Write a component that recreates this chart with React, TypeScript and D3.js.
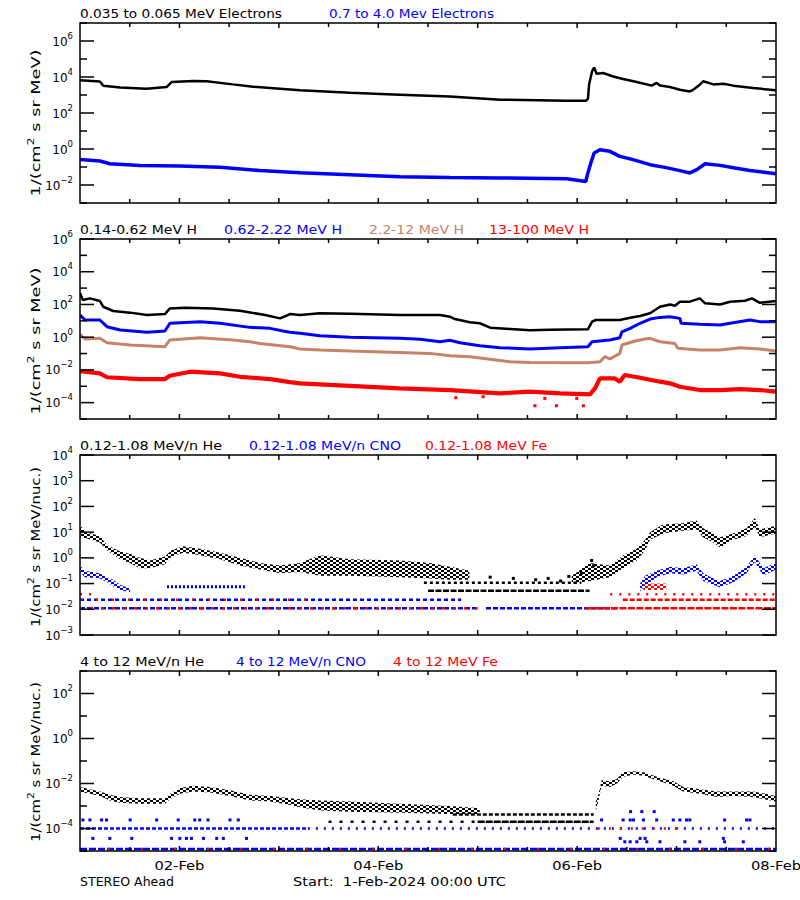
import * as d3 from 'd3'

// time axis: hours since 1-Feb-2024 00:00 UTC, values are log10 of flux
type Pt = [number, number]
type Band = [number, number, number]
type Seg = [number, number]

// ---- panel 1: electrons
const eLo: Pt[] = [[0,3.82],[4.8,3.75],[5.6,3.52],[9.7,3.42],[16.1,3.35],[20.9,3.44],[22.1,3.72],[27.3,3.78],[30.6,3.76],[36.9,3.59],[41.8,3.46],[48.3,3.35],[53.1,3.26],[65.2,3.13],[77.2,3.02],[89.3,2.91],[101.4,2.74],[117.5,2.68],[122.1,2.68],[122.6,2.79],[122.9,3.61],[123.6,4.31],[124.1,4.53],[124.7,4.18],[126.3,4.22],[128.7,4.03],[131.1,3.89],[134.4,3.72],[138.0,3.52],[139.2,3.67],[140.0,3.53],[142.4,3.44],[144.8,3.29],[147.2,3.2],[148.0,3.29],[149.6,3.57],[150.4,3.76],[152.9,3.59],[155.3,3.63],[157.7,3.52],[162.5,3.39],[168,3.26]]
const eHi: Pt[] = [[0,-0.59],[4.8,-0.67],[7.2,-0.82],[14.5,-0.91],[24.1,-0.94],[33.8,-1.02],[43.4,-1.2],[53.1,-1.32],[65.2,-1.43],[77.2,-1.54],[89.3,-1.59],[101.4,-1.61],[117.5,-1.65],[122.1,-1.8],[122.6,-1.33],[123.3,-0.78],[124.1,-0.22],[125.5,-0.04],[127.9,-0.13],[130.3,-0.41],[133.5,-0.59],[137.6,-0.87],[141.2,-1.02],[144.8,-1.2],[147.2,-1.33],[148.9,-1.15],[150.9,-0.82],[154.5,-0.91],[158.1,-1.06],[161.7,-1.2],[168,-1.37]]

// ---- panel 2: protons
const hA: Pt[] = [[0,2.68],[0.7,2.27],[2.4,2.37],[4.8,2.21],[5.6,1.86],[8.0,1.6],[12.1,1.5],[16.2,1.35],[20.5,1.41],[21.7,1.76],[25.3,1.8],[32.1,1.76],[38.6,1.62],[44.7,1.35],[48.3,1.15],[50.7,1.41],[53.1,1.35],[57.9,1.46],[65.2,1.43],[77.2,1.35],[86.9,1.35],[89.3,1.25],[90.5,1.11],[94.1,0.91],[96.5,0.85],[99.0,0.58],[103.8,0.5],[108.6,0.42],[113.4,0.46],[122.6,0.48],[123.6,0.95],[124.5,1.05],[130.3,1.05],[132.8,1.19],[135.2,1.29],[137.6,1.46],[138.8,1.66],[140.0,1.86],[142.4,2.0],[143.6,1.92],[144.8,2.17],[147.2,2.17],[149.6,2.37],[150.9,2.07],[154.5,2.0],[156.9,2.17],[160.5,2.23],[162.2,2.37],[164.1,2.1],[168,2.21]]
const hB: Pt[] = [[0,1.35],[1.2,1.05],[4.8,1.05],[6.5,0.64],[9.7,0.44],[16.2,0.3],[20.5,0.38],[21.7,0.85],[29.0,0.95],[33.8,0.85],[41.0,0.6],[45.9,0.54],[49.0,0.38],[50.7,0.3],[53.1,0.24],[57.9,0.09],[65.2,-0.01],[77.2,-0.07],[82.1,-0.13],[86.9,-0.28],[89.3,-0.19],[91.7,-0.34],[96.5,-0.52],[101.4,-0.64],[108.6,-0.72],[115.9,-0.64],[122.6,-0.58],[123.6,-0.28],[127.9,-0.17],[130.3,-0.03],[130.8,0.33],[132.8,0.54],[135.2,0.85],[137.6,1.11],[140.0,1.21],[142.4,1.25],[144.8,1.15],[145.1,0.85],[149.6,0.79],[154.5,0.74],[156.9,0.85],[161.7,1.05],[164.1,0.95],[168,0.95]]
const hC: Pt[] = [[0,0.17],[1.2,-0.11],[4.8,-0.07],[6.5,-0.34],[12.1,-0.48],[20.5,-0.58],[21.7,-0.17],[29.0,-0.03],[36.9,-0.17],[41.0,-0.28],[43.4,-0.38],[50.7,-0.58],[53.1,-0.72],[57.9,-0.79],[65.2,-0.85],[77.2,-0.93],[84.5,-0.99],[89.3,-1.13],[94.1,-1.19],[99.0,-1.35],[103.8,-1.5],[108.6,-1.54],[122.6,-1.56],[125.5,-1.5],[126.7,-1.19],[127.9,-1.33],[130.3,-0.99],[130.8,-0.48],[134.0,-0.23],[136.4,-0.11],[137.6,-0.07],[140.0,-0.28],[143.6,-0.38],[144.3,-0.68],[149.6,-0.79],[154.5,-0.79],[159.3,-0.64],[164.1,-0.72],[168,-0.85]]
const hD: Pt[] = [[0,-2.07],[4.8,-2.21],[6.5,-2.45],[14.5,-2.56],[20.5,-2.56],[21.7,-2.36],[26.6,-2.11],[33.8,-2.21],[38.6,-2.42],[45.9,-2.56],[50.7,-2.75],[53.1,-2.82],[60.3,-2.92],[77.2,-3.13],[89.3,-3.23],[101.4,-3.43],[108.6,-3.33],[115.9,-3.43],[123.1,-3.49],[124.3,-3.13],[125.5,-2.52],[129.1,-2.52],[130.3,-2.72],[131.5,-2.31],[135.2,-2.48],[140.0,-2.72],[142.4,-2.82],[144.8,-3.03],[149.6,-3.23],[154.5,-3.23],[159.3,-3.17],[164.1,-3.23],[168,-3.33]]
const hDLow: Pt[] = [[90.7,-3.7],[97.3,-3.64],[109.8,-4.19],[112.2,-3.74],[115,-4.19],[119.9,-3.74],[121.5,-4.19]]

// ---- panel 3: 0.12-1.08 MeV/n heavy ions (scatter clouds as low/high envelopes)
const he3a: Band[] = [[0,0.8,1.25],[1.7,0.75,1.0],[4.8,0.6,0.85],[6.5,0.3,0.5],[9.7,-0.05,0.25],[12.1,-0.2,0.15],[14.5,-0.4,0.0],[16.9,-0.4,-0.1],[20.5,-0.25,0.05],[22.1,0.05,0.3],[24.9,0.2,0.45],[29,0.1,0.35],[33.8,-0.05,0.2],[38.6,-0.3,0.0],[43.4,-0.45,-0.2],[48.3,-0.6,-0.3],[53.1,-0.55,-0.2],[57.9,-0.7,0.1],[65.2,-0.7,-0.05],[77.2,-0.75,-0.1],[84.5,-0.8,-0.2],[89.3,-0.85,-0.35],[94,-0.85,-0.5]]
const he3b: Band[] = [[118.7,-1.0,-0.7],[123.1,-0.9,-0.2],[127.9,-0.75,-0.3],[131.1,-0.4,0.1],[134.4,-0.1,0.35],[136.4,0.3,0.7],[137.6,0.7,1.0],[140.7,0.95,1.3],[145.5,1.05,1.35],[148.8,1.1,1.45],[150.4,0.8,1.15],[152.9,0.6,0.95],[154.5,0.4,0.8],[157.6,0.7,0.95],[160.9,0.85,1.15],[162.9,1.2,1.55],[164.1,0.8,1.1],[168,0.95,1.25]]
const he3Dots: Pt[] = [[99,-0.75],[104.6,-0.8],[110,-0.85],[113,-0.8],[116,-0.9],[118,-0.72],[121,-0.6],[123.5,-0.1],[124,-0.3]]
const he3RowA: Seg[] = [[83,121]]
const he3RowB: Seg[] = [[84,123]]
const cno3a: Band[] = [[0,-0.55,-0.3],[1.2,-0.75,-0.5],[4.8,-0.8,-0.6],[6.5,-0.95,-0.75],[8,-1.1,-0.85],[9.7,-1.25,-1.05],[12.1,-1.35,-1.2]]
const cno3b: Band[] = [[135.2,-1.3,-1.0],[136.4,-1.1,-0.7],[139.2,-0.75,-0.5],[142.4,-0.6,-0.35],[145.6,-0.65,-0.4],[148.8,-0.5,-0.25],[150.4,-0.9,-0.6],[152.9,-1.05,-0.8],[154.5,-1.15,-0.9],[157.7,-0.95,-0.7],[160.9,-0.6,-0.35],[162.9,-0.15,0.1],[164.9,-0.7,-0.4],[168,-0.45,-0.2]]
const cno3Bump: Seg[] = [[21,40]]
const cno3RowMid: Seg[] = [[0,92]]
const cno3RowLow: Seg[] = [[0,96],[98,130]]
const fe3Band: Band[] = [[136,-1.25,-1.0],[141.5,-1.25,-1.0]]
const fe3RowLowA: Seg[] = [[0,96]]
const fe3RowLowB: Seg[] = [[122,168]]
const fe3RowMidA: Seg[] = [[0,55]]
const fe3RowMidB: Seg[] = [[131,168]]
const fe3RowHigh: Seg[] = [[0,3],[128,168]]

// ---- panel 4: 4-12 MeV/n heavy ions
const he4a: Band[] = [[0,-2.35,-2.15],[4.8,-2.55,-2.35],[7.2,-2.75,-2.5],[9.7,-2.85,-2.6],[14.5,-2.9,-2.65],[20.5,-2.9,-2.65],[21.7,-2.7,-2.45],[24.1,-2.45,-2.2],[27.3,-2.35,-2.1],[31.4,-2.4,-2.15],[36.2,-2.55,-2.3],[41,-2.75,-2.5],[45.9,-2.8,-2.55],[50.7,-2.95,-2.65],[53.1,-3.05,-2.7],[57.9,-3.2,-2.75],[65.2,-3.25,-2.8],[77.2,-3.3,-2.9],[89.3,-3.35,-3.0],[96.5,-3.35,-3.1]]
const he4b: Band[] = [[124.5,-3.2,-2.8],[125.0,-2.9,-2.6],[125.9,-2.1,-1.85],[127.9,-2.15,-1.9],[129.6,-2.0,-1.8],[131.1,-1.7,-1.5],[133.6,-1.6,-1.45],[136.0,-1.65,-1.5],[139.2,-1.85,-1.7],[143.2,-2.1,-1.9],[145.6,-2.35,-2.15],[149.6,-2.45,-2.25],[153.7,-2.6,-2.35],[157.7,-2.55,-2.35],[162.5,-2.6,-2.35],[168,-2.8,-2.55]]
const he4RowA: Seg[] = [[90,124]]
const he4RowB1: Seg[] = [[60,96]]
const he4RowB2: Seg[] = [[96,124]]
const cno4RowA1: Seg[] = [[0,55]]
const cno4RowA2: Seg[] = [[55,168]]
const cno4RowB: Seg[] = [[0,168]]
const fe4RowA: Seg[] = [[125,145]]
const fe4RowB: Seg[] = [[0,168]]
const cno4Dots: Pt[] = [
  [0.7,-3.62],[2.4,-3.62],[5.2,-3.62],[6.4,-3.62],[12.1,-3.62],[18.5,-3.62],[23.7,-3.62],[27.7,-3.62],[28.9,-3.62],[30.9,-3.62],[36.2,-3.62],[38.2,-3.62],
  [125.9,-3.62],[131.1,-3.62],[132.8,-3.62],[133.6,-3.62],[136,-3.62],[139.2,-3.62],[143.2,-3.62],[144.8,-3.62],[146.4,-3.62],[147.2,-3.62],[155.6,-3.62],[160.9,-3.62],[161.7,-3.62],
  [132.9,-3.25],[135.6,-3.25],[138.6,-3.25],
  [3.1,-4.44],[7.2,-4.44],[12.5,-4.44],[22.1,-4.44],[24.1,-4.44],[25.7,-4.44],[26.9,-4.44],[29.8,-4.44],[33,-4.44],[34.6,-4.44],[40.2,-4.44],
  [130.4,-4.44],[135.2,-4.44],[136.4,-4.44],[155.3,-4.44],
  [131.5,-4.59],[132.8,-4.59],[134.4,-4.59],[136.8,-4.59],[140,-4.59],[146,-4.59],[149.6,-4.59],[155.6,-4.59],[160.1,-4.59]]

// ---- labels
const dayTicks = [24, 72, 120, 168]
const dayLabels = ['02-Feb', '04-Feb', '06-Feb', '08-Feb']
const titles = [
  ['0.035 to 0.065 MeV Electrons', '0.7 to 4.0 Mev Electrons'],
  ['0.14-0.62 MeV H', '0.62-2.22 MeV H', '2.2-12 MeV H', '13-100 MeV H'],
  ['0.12-1.08 MeV/n He', '0.12-1.08 MeV/n CNO', '0.12-1.08 MeV Fe'],
  ['4 to 12 MeV/n He', '4 to 12 MeV/n CNO', '4 to 12 MeV Fe'],
]
const unitMeV = ['1/(cm', '2', ' s sr MeV)']
const unitNuc = ['1/(cm', '2', ' s sr MeV/nuc.)']

// ---- layout
const X0 = 80, X1 = 776, PH = 180
const BLACK = '#000000', BLUE = '#0000ff', RED = '#ff0000', BROWN = '#c8826a'
const x = d3.scaleLinear().domain([0, 168]).range([X0, X1])
const FONT = 'DejaVu Sans, Verdana, sans-serif'

interface LineDef { data: Pt[]; color: string; w: number }
interface BandDef { data: Band[]; fill: string }
interface RowDef { lv: number; seg: Seg[]; color: string; dash: string; w?: number; off?: number }
interface DotDef { data: Pt[]; color: string }
interface PanelDef {
  top: number; lo: number; hi: number; step2: boolean
  titles: string[]; colors: string[]; tpos: [number, number][]
  unit: string[]; unitLen: number; unitDy: number
  lines: LineDef[]; bands: BandDef[]; rows: RowDef[]; dots: DotDef[]
}

const panels: PanelDef[] = [
  {
    top: 23, lo: -3, hi: 7, step2: true,
    titles: titles[0], colors: [BLACK, BLUE], tpos: [[80, 202], [329, 165]],
    unit: unitMeV, unitLen: 147, unitDy: 10,
    lines: [{ data: eLo, color: BLACK, w: 2.5 }, { data: eHi, color: BLUE, w: 3.5 }],
    bands: [], rows: [], dots: [],
  },
  {
    top: 239, lo: -5, hi: 6, step2: true,
    titles: titles[1], colors: [BLACK, BLUE, BROWN, RED], tpos: [[80, 117], [224, 118], [369, 95], [489, 100]],
    unit: unitMeV, unitLen: 147, unitDy: 12,
    lines: [
      { data: hA, color: BLACK, w: 2.5 }, { data: hB, color: BLUE, w: 3 },
      { data: hC, color: BROWN, w: 3 }, { data: hD, color: RED, w: 4.2 },
    ],
    bands: [], rows: [], dots: [{ data: hDLow, color: RED }],
  },
  {
    top: 455, lo: -3, hi: 4, step2: false,
    titles: titles[2], colors: [BLACK, BLUE, RED], tpos: [[80, 142], [249, 152], [425, 122]],
    unit: unitNuc, unitLen: 160, unitDy: 2,
    lines: [],
    bands: [
      { data: he3a, fill: 'url(#pk)' }, { data: he3b, fill: 'url(#pk)' },
      { data: cno3a, fill: 'url(#pb)' }, { data: cno3b, fill: 'url(#pb)' },
      { data: fe3Band, fill: 'url(#pr)' },
    ],
    rows: [
      { lv: -0.97, seg: he3RowA, color: BLACK, dash: '3 3' },
      { lv: -1.28, seg: he3RowB, color: BLACK, dash: '6 1.5' },
      { lv: -1.12, seg: cno3Bump, color: BLUE, dash: '2 2', w: 3 },
      { lv: -1.63, seg: cno3RowMid, color: BLUE, dash: '4 3' },
      { lv: -1.96, seg: cno3RowLow, color: BLUE, dash: '5 2' },
      { lv: -1.96, seg: fe3RowLowA, color: RED, dash: '3 8', off: 1 },
      { lv: -1.96, seg: fe3RowLowB, color: RED, dash: '7 1.5' },
      { lv: -1.63, seg: fe3RowMidA, color: RED, dash: '2 14' },
      { lv: -1.63, seg: fe3RowMidB, color: RED, dash: '5 2' },
      { lv: -1.42, seg: fe3RowHigh, color: RED, dash: '2 7' },
    ],
    dots: [{ data: he3Dots, color: BLACK }],
  },
  {
    top: 671, lo: -5, hi: 3, step2: true,
    titles: titles[3], colors: [BLACK, BLUE, RED], tpos: [[80, 124], [236, 130], [393, 105]],
    unit: unitNuc, unitLen: 160, unitDy: 1,
    lines: [],
    bands: [{ data: he4a, fill: 'url(#pk)' }, { data: he4b, fill: 'url(#pk)' }],
    rows: [
      { lv: -3.38, seg: he4RowA, color: BLACK, dash: '4 2' },
      { lv: -3.7, seg: he4RowB1, color: BLACK, dash: '3 8' },
      { lv: -3.7, seg: he4RowB2, color: BLACK, dash: '7 1' },
      { lv: -4.0, seg: cno4RowA1, color: BLUE, dash: '4 2' },
      { lv: -4.0, seg: cno4RowA2, color: BLUE, dash: '2 6' },
      { lv: -4.91, seg: cno4RowB, color: BLUE, dash: '7 2' },
      { lv: -4.0, seg: fe4RowA, color: RED, dash: '2 9' },
      { lv: -4.91, seg: fe4RowB, color: RED, dash: '2 31', off: 5 },
    ],
    dots: [{ data: cno4Dots, color: BLUE }],
  },
]

// coarse dot texture used for the scattered point clouds
function Pattern({ id, color }: { id: string; color: string }) {
  return (
    <pattern id={id} width={6} height={4} patternUnits="userSpaceOnUse">
      <rect x={0} y={0} width={3} height={2} fill={color} />
      <rect x={3} y={2} width={3} height={2} fill={color} />
    </pattern>
  )
}

function Panel({ p, i }: { p: PanelDef; i: number }) {
  const bottom = p.top + PH
  const y = d3.scaleLog().domain([10 ** p.lo, 10 ** p.hi]).range([bottom, p.top])
  const yv = (v: number) => y(10 ** v)
  const line = d3.line<Pt>().x(d => x(d[0])).y(d => yv(d[1]))
  const area = d3.area<Band>().x(d => x(d[0])).y0(d => yv(d[1])).y1(d => yv(d[2]))
  const exps = d3.range(p.lo, p.hi + 1)
  const halfDays = d3.range(12, 168, 12)
  const cy = p.top + PH / 2 + p.unitDy

  return (
    <g>
      <clipPath id={`clip${i}`}>
        <rect x={X0} y={p.top} width={X1 - X0} height={PH} />
      </clipPath>

      {/* titles */}
      {p.titles.map((t, k) => (
        <text key={k} x={p.tpos[k][0]} y={p.top - 5.5} fill={p.colors[k]} fontSize={12.5}
          textLength={p.tpos[k][1]} lengthAdjust="spacingAndGlyphs">{t}</text>
      ))}

      {/* y unit label */}
      <text transform={`translate(40,${cy}) rotate(-90)`} textAnchor="middle" fontSize={12.5}
        textLength={p.unitLen} lengthAdjust="spacingAndGlyphs">
        <tspan>{p.unit[0]}</tspan>
        <tspan fontSize={9} dy={-6}>{p.unit[1]}</tspan>
        <tspan dy={6}>{p.unit[2]}</tspan>
      </text>

      <g clipPath={`url(#clip${i})`}>
        {p.bands.map((b, k) => <path key={k} d={area(b.data) || ''} fill={b.fill} />)}
        {p.rows.map((r, k) => r.seg.map((s, j) => (
          <line key={`${k}-${j}`} x1={x(s[0])} x2={x(s[1])} y1={yv(r.lv)} y2={yv(r.lv)}
            stroke={r.color} strokeWidth={r.w ?? 2.5} strokeDasharray={r.dash} strokeDashoffset={r.off ?? 0} />
        )))}
        {p.lines.map((l, k) => (
          <path key={k} d={line(l.data) || ''} fill="none" stroke={l.color} strokeWidth={l.w}
            strokeLinejoin="bevel" />
        ))}
        {p.dots.map((dd, k) => dd.data.map((d, j) => (
          <rect key={`${k}-${j}`} x={x(d[0]) - 1.5} y={yv(d[1]) - 1.5} width={3} height={3} fill={dd.color} />
        )))}
      </g>

      {/* frame */}
      <rect x={X0} y={p.top} width={X1 - X0} height={PH} fill="none" stroke="#000" strokeWidth={1.5} />

      {/* y ticks */}
      {exps.map(e => {
        const major = !p.step2 || e % 2 === 0
        const len = major ? 14 : 7
        const yy = yv(e)
        return (
          <g key={e}>
            <line x1={X0} x2={X0 + len} y1={yy} y2={yy} stroke="#000" strokeWidth={1.5} />
            <line x1={X1} x2={X1 - len} y1={yy} y2={yy} stroke="#000" strokeWidth={1.5} />
            {major && (
              <text x={73} y={yy + 4.5} textAnchor="end" fontSize={12}>
                <tspan>10</tspan>
                <tspan fontSize={8.5} dy={-7}>{e < 0 ? `\u2212${-e}` : `${e}`}</tspan>
              </text>
            )}
          </g>
        )
      })}

      {/* x ticks */}
      {halfDays.map(h => {
        const len = h % 24 === 0 ? 5 : 4
        return (
          <g key={h}>
            <line x1={x(h)} x2={x(h)} y1={p.top} y2={p.top + len} stroke="#000" strokeWidth={1.5} />
            <line x1={x(h)} x2={x(h)} y1={bottom} y2={bottom - len} stroke="#000" strokeWidth={1.5} />
          </g>
        )
      })}
    </g>
  )
}

export default function App() {
  return (
    <svg width={800} height={900} fontFamily={FONT}
      style={{ position: 'absolute', left: 0, top: 0, background: '#fff', display: 'block' }}>
      <defs>
        <Pattern id="pk" color={BLACK} />
        <Pattern id="pb" color={BLUE} />
        <Pattern id="pr" color={RED} />
      </defs>
      <rect width={800} height={900} fill="#fff" />
      {panels.map((p, i) => <Panel key={i} p={p} i={i} />)}

      {dayTicks.map((h, k) => (
        <text key={h} x={x(h)} y={870} textAnchor="middle" fontSize={13}
          textLength={50} lengthAdjust="spacingAndGlyphs">{dayLabels[k]}</text>
      ))}
      <text x={80} y={886} fontSize={13} textLength={94} lengthAdjust="spacingAndGlyphs">STEREO Ahead</text>
      <text x={293} y={886} fontSize={13} textLength={213} lengthAdjust="spacingAndGlyphs" xmlSpace="preserve">Start:  1-Feb-2024 00:00 UTC</text>
    </svg>
  )
}
